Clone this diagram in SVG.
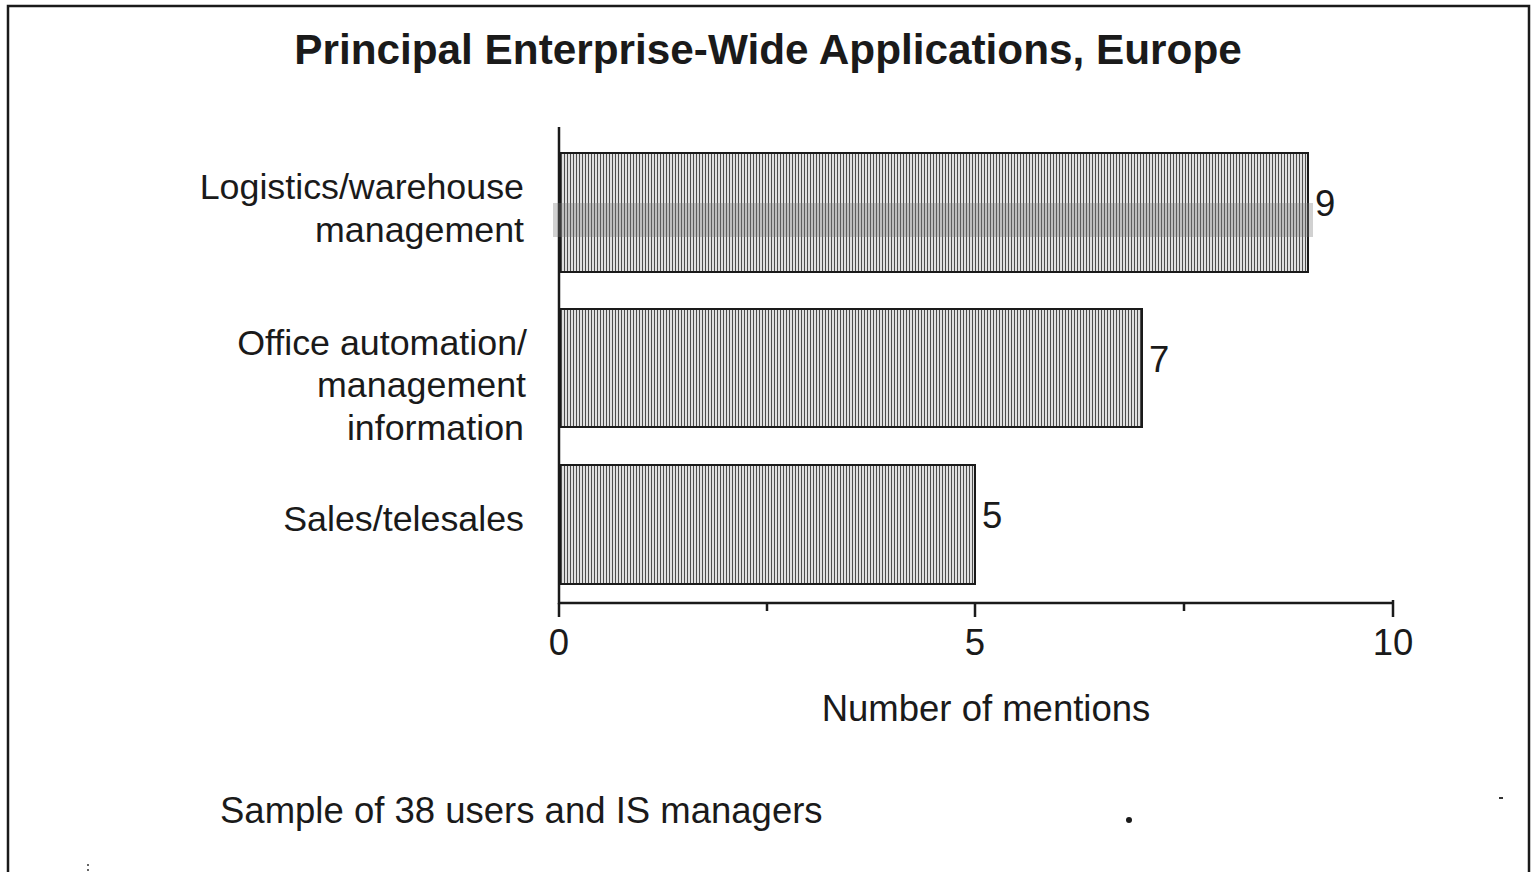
<svg xmlns="http://www.w3.org/2000/svg" width="1534" height="872" viewBox="0 0 1534 872">
  <style>
    .lbl { font-family: "Liberation Sans", Arial, sans-serif; font-size: 36.5px; fill: #1a1a1a; }
    .cat { text-anchor: end; font-size: 35.8px; }
    .mid { text-anchor: middle; }
    .title { font-family: "Liberation Sans", Arial, sans-serif; font-size: 42.3px; font-weight: bold; fill: #1a1a1a; text-anchor: middle; }
    .axis { stroke: #1a1a1a; stroke-width: 2.5; fill: none; }
    .bar { fill: url(#hatch); stroke: #1a1a1a; stroke-width: 2; }
  </style>
  <defs>
    <!-- fine vertical hatching used for every bar -->
    <pattern id="hatch" patternUnits="userSpaceOnUse" width="3" height="6">
      <rect width="3" height="6" fill="#e0e0e0"/>
      <rect width="1" height="6" fill="#4e4e4e"/>
    </pattern>
  </defs>

  <rect width="1534" height="872" fill="#ffffff"/>

  <!-- outer frame (open at the bottom edge of the page) -->
  <path d="M8 880 V6 H1529 V880" fill="none" stroke="#1a1a1a" stroke-width="2.5"/>

  <text class="title" x="768" y="64">Principal Enterprise-Wide Applications, Europe</text>

  <!-- axes -->
  <g id="axes">
    <path class="axis" d="M559 127 V603 H1393"/>
    <path class="axis" d="M559 603 V617 M975 603 V617 M1393 600 V617"/>
    <path class="axis" d="M767 603 V611 M1184 603 V611" stroke-width="2"/>
    <text class="lbl mid" x="559" y="655">0</text>
    <text class="lbl mid" x="975" y="655">5</text>
    <text class="lbl mid" x="1393" y="655">10</text>
    <text class="lbl mid" x="986" y="721">Number of mentions</text>
  </g>

  <!-- bars -->
  <g id="bar-logistics">
    <rect class="bar" x="560" y="153" width="748" height="119"/>
    <rect x="553" y="203" width="760" height="34" fill="#7a7a7a" opacity="0.35"/>
    <text class="lbl cat" x="524" y="199">Logistics/warehouse</text>
    <text class="lbl cat" x="524" y="242">management</text>
    <text class="lbl" x="1315" y="216">9</text>
  </g>
  <g id="bar-office">
    <rect class="bar" x="560" y="309" width="582" height="118"/>
    <text class="lbl cat" x="527" y="355">Office automation/</text>
    <text class="lbl cat" x="526" y="397">management</text>
    <text class="lbl cat" x="524" y="440">information</text>
    <text class="lbl" x="1149" y="372">7</text>
  </g>
  <g id="bar-sales">
    <rect class="bar" x="560" y="465" width="415" height="119"/>
    <text class="lbl cat" x="524" y="531">Sales/telesales</text>
    <text class="lbl" x="982" y="528">5</text>
  </g>

  <text class="lbl" x="220" y="823">Sample of 38 users and IS managers</text>

  <!-- stray marks -->
  <circle cx="1129" cy="820" r="3" fill="#1a1a1a"/>
  <rect x="1499" y="797" width="4" height="2" fill="#333"/>
  <circle cx="88" cy="865" r="1" fill="#333"/>
  <circle cx="88" cy="870" r="1" fill="#333"/>
</svg>
